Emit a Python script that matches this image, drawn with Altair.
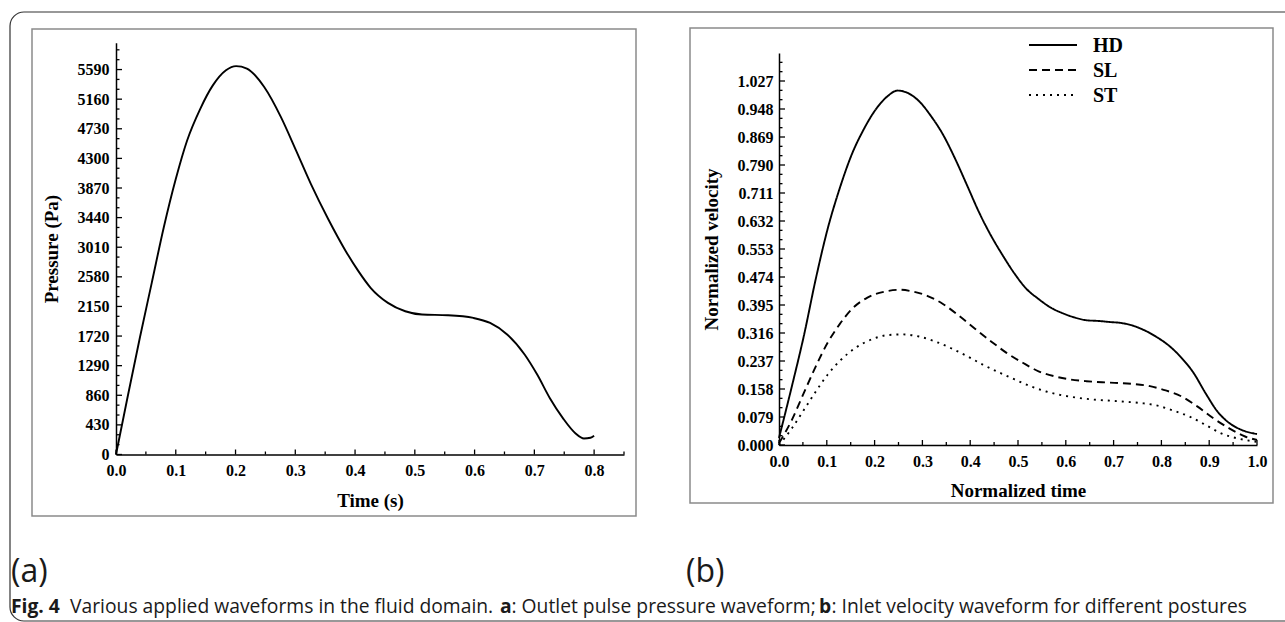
import altair as alt
import pandas as pd

# ---------------- Panel (a): outlet pressure ----------------
time_a = [0.0, 0.02, 0.04, 0.06, 0.08, 0.1, 0.119, 0.141, 0.162, 0.184, 0.201,
          0.219, 0.248, 0.276, 0.301, 0.326, 0.355, 0.384, 0.405, 0.426, 0.455,
          0.484, 0.512, 0.555, 0.598, 0.626, 0.655, 0.684, 0.705, 0.726, 0.748,
          0.769, 0.783, 0.794, 0.8]
pressure_a = [0, 860, 1700, 2500, 3300, 4000, 4560, 5020, 5360, 5580, 5640,
              5605, 5337, 4900, 4420, 3930, 3420, 2960, 2670, 2421, 2202,
              2080, 2032, 2022, 1983, 1910, 1740, 1449, 1157, 817, 525,
              306, 233, 243, 272]

# ---------------- Panel (b): inlet velocity ----------------
series_b = ["HD", "SL", "ST"]
t_hd = [0.0, 0.027, 0.052, 0.077, 0.102, 0.127, 0.152, 0.177, 0.202, 0.227, 0.248,
        0.268, 0.293, 0.318, 0.343, 0.368, 0.393, 0.418, 0.443, 0.468, 0.493,
        0.518, 0.543, 0.568, 0.593, 0.618, 0.643, 0.668, 0.692, 0.717, 0.742,
        0.767, 0.792, 0.817, 0.842, 0.867, 0.892, 0.917, 0.942, 0.967, 0.992, 1.0]
v_hd = [0.02, 0.166, 0.308, 0.469, 0.611, 0.724, 0.819, 0.890, 0.946, 0.984, 1.0,
        0.994, 0.970, 0.928, 0.876, 0.809, 0.734, 0.658, 0.592, 0.535, 0.483,
        0.440, 0.412, 0.388, 0.372, 0.360, 0.352, 0.350, 0.347, 0.344, 0.336,
        0.322, 0.303, 0.279, 0.246, 0.204, 0.147, 0.095, 0.062, 0.043, 0.033, 0.031]
t_sl = [0.0, 0.027, 0.052, 0.077, 0.102, 0.127, 0.152, 0.185, 0.219, 0.252, 0.277,
        0.31, 0.343, 0.377, 0.41, 0.443, 0.476, 0.51, 0.543, 0.576, 0.609, 0.643,
        0.676, 0.709, 0.742, 0.776, 0.809, 0.842, 0.875, 0.908, 0.942, 0.975, 1.0]
v_sl = [0.005, 0.071, 0.147, 0.222, 0.289, 0.341, 0.383, 0.416, 0.432, 0.438, 0.434,
        0.421, 0.398, 0.364, 0.328, 0.293, 0.260, 0.232, 0.208, 0.194, 0.185, 0.180,
        0.177, 0.175, 0.172, 0.166, 0.154, 0.137, 0.109, 0.076, 0.047, 0.024, 0.014]
t_st = [0.0, 0.027, 0.052, 0.077, 0.102, 0.127, 0.16, 0.194, 0.227, 0.26, 0.293,
        0.327, 0.36, 0.393, 0.426, 0.46, 0.493, 0.526, 0.559, 0.593, 0.626, 0.659,
        0.693, 0.726, 0.759, 0.792, 0.825, 0.859, 0.892, 0.925, 0.958, 1.0]
v_st = [0.0, 0.047, 0.099, 0.151, 0.199, 0.237, 0.274, 0.298, 0.310, 0.312, 0.306,
        0.292, 0.273, 0.251, 0.227, 0.205, 0.185, 0.166, 0.151, 0.140, 0.133, 0.128,
        0.125, 0.122, 0.118, 0.111, 0.097, 0.080, 0.057, 0.033, 0.019, 0.009]

# ---------------- Tick values ----------------
xa_major = [0.0, 0.1, 0.2, 0.3, 0.4, 0.5, 0.6, 0.7, 0.8]
xa_minor = [0.05, 0.15, 0.25, 0.35, 0.45, 0.55, 0.65, 0.75, 0.85]
ya_major = [0, 430, 860, 1290, 1720, 2150, 2580, 3010, 3440, 3870, 4300, 4730, 5160, 5590]
ya_minor = [round(i * 430 / 3, 2) for i in range(1, 42) if i % 3 != 0]
xb_major = [0.0, 0.1, 0.2, 0.3, 0.4, 0.5, 0.6, 0.7, 0.8, 0.9, 1.0]
xb_minor = [0.05, 0.15, 0.25, 0.35, 0.45, 0.55, 0.65, 0.75, 0.85, 0.95]
yb_major = [0.0, 0.079, 0.158, 0.237, 0.316, 0.395, 0.474, 0.553, 0.632, 0.711, 0.790,
            0.869, 0.948, 1.027]
yb_minor = [round(i * 0.079 / 3, 5) for i in range(1, 42) if i % 3 != 0]

caption_bold = [("Fig. 4", 11), ("a", 500), ("b", 819)]
caption_regular = [("Various applied waveforms in the fluid domain. ", 70),
                   (": Outlet pulse pressure waveform; ", 511.5),
                   (": Inlet velocity waveform for different postures", 831.5)]
panel_tags = [("(a)", 11), ("(b)", 686)]

SERIF = "Liberation Serif"
SANS = "Open Sans"

# pixel geometry (decoration)
A_X0, A_X1, A_Y0, A_Y1 = 116, 624, 454.5, 42.7
B_X0, B_X1, B_Y0, B_Y1 = 779, 1257, 445, 53
H = 622

def axis(fmt, values, title, offset, tpad, lpad, orient):
    return alt.Axis(values=values, format=fmt, title=title, offset=offset, orient=orient,
                    ticks=False, tickSize=0, grid=False, zindex=2,
                    domainColor="black", domainWidth=1.5,
                    labelFont=SERIF, labelFontWeight="bold", labelFontSize=16,
                    labelColor="black", labelPadding=lpad, labelFlush=False,
                    labelOverlap=False,
                    titleFont=SERIF, titleFontWeight="bold", titleFontSize=19,
                    titleColor="black", titlePadding=tpad)

# ---- panel a ----
xs_a = alt.Scale(domain=[0, 0.85], range=[A_X0, A_X1], nice=False, zero=False)
ys_a = alt.Scale(domain=[0, 5980], range=[A_Y0, A_Y1], nice=False, zero=False)
ax_xa = axis(".1f", xa_major, "Time (s)", A_Y0 - H, 13, 8, "bottom")
ax_ya = axis("d", ya_major, "Pressure (Pa)", -A_X0, 16, 7, "left")

df_a = pd.DataFrame({"t": time_a, "p": pressure_a})
line_a = alt.Chart(df_a).mark_line(color="black", strokeWidth=1.9, interpolate="monotone").encode(
    x=alt.X("t:Q", scale=xs_a, axis=ax_xa),
    y=alt.Y("p:Q", scale=ys_a, axis=ax_ya),
)

def xticks(vals, scale, ax, y0, length):
    return alt.Chart(pd.DataFrame({"t": vals})).mark_rule(color="black", strokeWidth=1.3).encode(
        x=alt.X("t:Q", scale=scale, axis=ax), y=alt.value(y0), y2=alt.value(y0 - length))

def yticks(vals, scale, ax, x0, length, field):
    return alt.Chart(pd.DataFrame({field: vals})).mark_rule(color="black", strokeWidth=1.3).encode(
        y=alt.Y(f"{field}:Q", scale=scale, axis=ax), x=alt.value(x0), x2=alt.value(x0 + length))

panel_a = alt.layer(
    line_a,
    xticks(xa_major, xs_a, ax_xa, A_Y0, 5),
    xticks(xa_minor, xs_a, ax_xa, A_Y0, 3),
    yticks(ya_major, ys_a, ax_ya, A_X0, 6, "p"),
    yticks(ya_minor, ys_a, ax_ya, A_X0, 3.5, "p"),
)

# ---- panel b ----
xs_b = alt.Scale(domain=[0, 1.0], range=[B_X0, B_X1], nice=False, zero=False)
ys_b = alt.Scale(domain=[0, 1.106], range=[B_Y0, B_Y1], nice=False, zero=False)
ax_xb = axis(".1f", xb_major, "Normalized time", B_Y0 - H, 12, 8, "bottom")
ax_yb = axis(".3f", yb_major, "Normalized velocity", -B_X0, 16, 6, "left")

rows = []
for name, ts, vs in zip(series_b, [t_hd, t_sl, t_st], [v_hd, v_sl, v_st]):
    for t, v in zip(ts, vs):
        rows.append({"t": t, "v": v, "series": name})
df_b = pd.DataFrame(rows)
dash_scale = alt.Scale(domain=series_b, range=[[1, 0], [8, 5], [2, 5]])

line_b = alt.Chart(df_b).mark_line(color="black", strokeWidth=1.9, interpolate="monotone").encode(
    x=alt.X("t:Q", scale=xs_b, axis=ax_xb),
    y=alt.Y("v:Q", scale=ys_b, axis=ax_yb),
    strokeDash=alt.StrokeDash("series:N", scale=dash_scale, legend=None),
    detail="series:N",
)

panel_b = alt.layer(
    line_b,
    xticks(xb_major, xs_b, ax_xb, B_Y0, 5),
    xticks(xb_minor, xs_b, ax_xb, B_Y0, 3),
    yticks(yb_major, ys_b, ax_yb, B_X0, 6, "v"),
    yticks(yb_minor, ys_b, ax_yb, B_X0, 3.5, "v"),
)

# ---- legend (manual, uses same dash scale) ----
leg = pd.DataFrame({"series": series_b, "row": [0, 1, 2]})
leg_lines = alt.Chart(leg).mark_rule(color="black", strokeWidth=1.9).encode(
    x=alt.value(1029), x2=alt.value(1077),
    y=alt.Y("ly:Q", scale=None),
    strokeDash=alt.StrokeDash("series:N", scale=dash_scale, legend=None),
).transform_calculate(ly="45 + datum.row * 25")
leg_text = alt.Chart(leg).mark_text(font=SERIF, fontWeight="bold", fontSize=20, align="left",
                                    baseline="middle", color="black").encode(
    x=alt.value(1093), y=alt.Y("ly:Q", scale=None), text="series:N",
).transform_calculate(ly="46 + datum.row * 25")

# ---- frames ----
one = pd.DataFrame({"k": [0]})
outer = alt.Chart(one).mark_rect(fillOpacity=0, stroke="#333333", strokeWidth=1.2, cornerRadius=14).encode(
    x=alt.value(10), x2=alt.value(1310), y=alt.value(12), y2=alt.value(621))
frame_a = alt.Chart(one).mark_rect(fillOpacity=0, stroke="#8a8a8a", strokeWidth=1.5).encode(
    x=alt.value(32), x2=alt.value(636), y=alt.value(29), y2=alt.value(516))
frame_b = alt.Chart(one).mark_rect(fillOpacity=0, stroke="#8a8a8a", strokeWidth=1.5).encode(
    x=alt.value(690), x2=alt.value(1273), y=alt.value(28), y2=alt.value(503))

# ---- caption and tags ----
cb = pd.DataFrame(caption_bold, columns=["txt", "px"])
cr = pd.DataFrame(caption_regular, columns=["txt", "px"])
tg = pd.DataFrame(panel_tags, columns=["txt", "px"])
cap_bold = alt.Chart(cb).mark_text(font=SANS, fontWeight="bold", fontSize=19.3, align="left",
                                   baseline="middle", color="#1a1a1a").encode(
    x=alt.X("px:Q", scale=None), y=alt.value(607), text="txt:N")
cap_reg = alt.Chart(cr).mark_text(font=SANS, fontSize=19.3, align="left",
                                  baseline="middle", color="#1a1a1a").encode(
    x=alt.X("px:Q", scale=None), y=alt.value(607), text="txt:N")
tags = alt.Chart(tg).mark_text(font=SANS, fontSize=32, align="left",
                               baseline="middle", color="#1a1a1a").encode(
    x=alt.X("px:Q", scale=None), y=alt.value(572), text="txt:N")

chart = alt.layer(
    outer, frame_a, frame_b, panel_a, panel_b, leg_lines, leg_text, cap_bold, cap_reg, tags
).resolve_scale(x="independent", y="independent", strokeDash="shared").properties(
    width=1285, height=H, padding=0, autosize=alt.AutoSizeParams(type="none"),
    background="white"
).configure_view(strokeWidth=0)

chart.save("out.html", embed_options={"renderer": "svg", "actions": False})
